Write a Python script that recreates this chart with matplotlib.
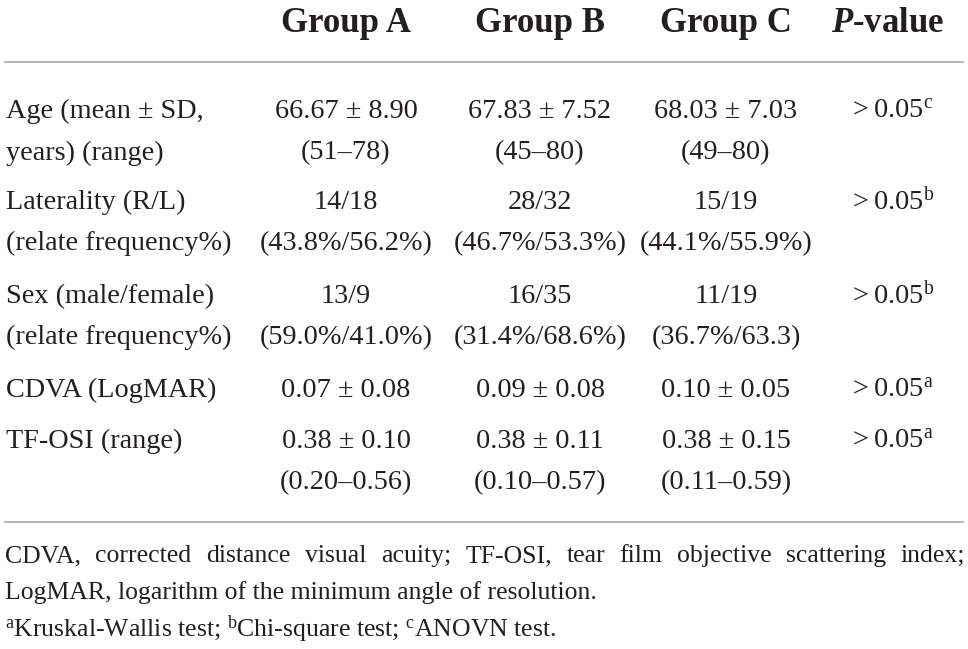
import matplotlib
matplotlib.use("Agg")
import matplotlib.pyplot as plt

plt.rcParams["font.family"] = ["Liberation Serif", "DejaVu Serif"]
plt.rcParams["mathtext.fontset"] = "custom"
plt.rcParams["mathtext.rm"] = "Liberation Serif"
plt.rcParams["mathtext.it"] = "Liberation Serif:italic"
plt.rcParams["mathtext.bf"] = "Liberation Serif:bold"
plt.rcParams["mathtext.bfit"] = "Liberation Serif:italic:bold"

# table content
headers = [r"Group A", r"Group B", r"Group C", r"$\mathbfit{P}$-value"]
row_labels = [["Age (mean ± SD,", "years) (range)"],
              ["Laterality (R/L)", "(relate frequency%)"],
              ["Sex (male/female)", "(relate frequency%)"],
              ["CDVA (LogMAR)"],
              ["TF-OSI (range)"]]
group_a = [["66.67 ± 8.90", "(51–78)"], ["14/18", "(43.8%/56.2%)"],
           ["13/9", "(59.0%/41.0%)"], ["0.07 ± 0.08"], ["0.38 ± 0.10", "(0.20–0.56)"]]
group_b = [["67.83 ± 7.52", "(45–80)"], ["28/32", "(46.7%/53.3%)"],
           ["16/35", "(31.4%/68.6%)"], ["0.09 ± 0.08"], ["0.38 ± 0.11", "(0.10–0.57)"]]
group_c = [["68.03 ± 7.03", "(49–80)"], ["15/19", "(44.1%/55.9%)"],
           ["11/19", "(36.7%/63.3)"], ["0.10 ± 0.05"], ["0.38 ± 0.15", "(0.11–0.59)"]]
p_values = [">\u20090.05"] * 5
p_tests = ["c", "b", "b", "a", "a"]
footnotes = ["CDVA, corrected distance visual acuity; TF-OSI, tear film objective scattering index;",
             "LogMAR, logarithm of the minimum angle of resolution.",
             r"$^{\mathrm{a}}$Kruskal-Wallis test; $^{\mathrm{b}}$Chi-square test; $^{\mathrm{c}}$ANOVN test."]

W, H = 968, 649
INK = "#231f20"
RULE = "#a8a8a8"
BODY, HEAD, NOTE = 20.3, 25, 18.5
fig = plt.figure(figsize=(W / 100, H / 100), dpi=100)


def px(x, y):
    return x / W, 1 - y / H


def put(x, y, s, size=BODY, ha="center", **kw):
    return fig.text(*px(x, y), s, fontsize=size, ha=ha, va="baseline", color=INK, **kw)


# header
col_x = [346, 540, 726, 888]
for x, h in zip(col_x, headers):
    put(x, 32, h, size=HEAD, weight="bold")

for yy in (62, 522):
    fig.add_artist(plt.Line2D([5 / W, 963 / W], [1 - yy / H] * 2, color=RULE, lw=1.2))

# body
row_base = [118, 209, 303, 397, 448]
step = 41.5
for i, base in enumerate(row_base):
    for k, s in enumerate(row_labels[i]):
        put(6, base + k * step, s, ha="left")
    for x, col in zip(col_x[:3], (group_a, group_b, group_c)):
        for k, s in enumerate(col[i]):
            put(x, base + k * step, s)
    put(col_x[3] + 5, base, p_values[i] + r"$^{\mathrm{" + p_tests[i] + "}}$")

# footnotes (first line justified across the full width)
renderer = fig.canvas.get_renderer()
words = footnotes[0].split(" ")
arts = [put(0, 562, w, size=NOTE, ha="left") for w in words]
widths = [a.get_window_extent(renderer).width for a in arts]
left, right = 5, 965
gap = (right - left - sum(widths)) / (len(words) - 1)
x = left
for a, w in zip(arts, widths):
    a.set_x(x / W)
    x += w + gap

put(5, 599, footnotes[1], size=NOTE, ha="left")
put(5, 637, footnotes[2], size=NOTE, ha="left")

fig.savefig("out.png", dpi=100)
